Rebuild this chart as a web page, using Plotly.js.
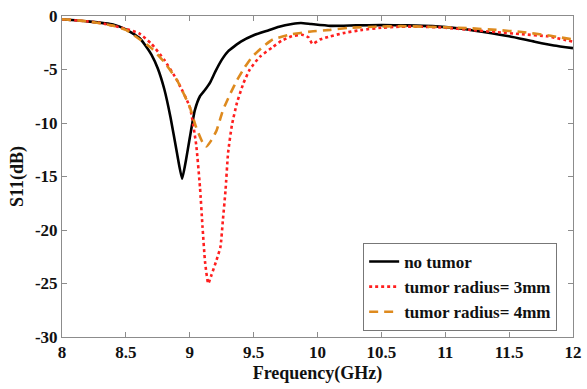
<!DOCTYPE html>
<html>
<head>
<meta charset="utf-8">
<script src="https://cdn.plot.ly/plotly-3.0.1.min.js"></script>
<style>
#chart svg text { font-family: "Liberation Serif", "Times New Roman", serif !important; font-weight: bold !important; }
</style>
</head>
<body style="margin:0">
<div id="chart" style="width:587px;height:389px"></div>
<script>
// Series names
const seriesNames = ["no tumor", "tumor radius= 3mm", "tumor radius= 4mm"];

// no tumor
const freqNoTumor = [8, 8.2, 8.4, 8.5, 8.55, 8.61, 8.65, 8.7, 8.75, 8.8, 8.85, 8.9, 8.94, 8.97, 9.0, 9.04, 9.08, 9.12, 9.16, 9.2, 9.25, 9.3, 9.4, 9.5, 9.6, 9.7, 9.8, 9.87, 9.95, 10.1, 10.3, 10.5, 10.7, 10.9, 11.1, 11.3, 11.5, 11.7, 11.85, 12];
const s11NoTumor  = [-0.3, -0.5, -0.8, -1.25, -1.6, -2.1, -2.7, -3.6, -4.9, -6.8, -9.5, -12.8, -15.2, -13.5, -11.4, -8.8, -7.5, -6.9, -6.2, -5.2, -4.1, -3.3, -2.4, -1.8, -1.4, -1.0, -0.75, -0.65, -0.75, -0.92, -0.88, -0.85, -0.88, -0.95, -1.15, -1.5, -1.9, -2.4, -2.75, -3.0];

// tumor radius 3mm
const freq3mm = [8, 8.2, 8.3, 8.5, 8.6, 8.7, 8.8, 8.9, 9.0, 9.05, 9.08, 9.1, 9.12, 9.145, 9.17, 9.21, 9.24, 9.26, 9.28, 9.3, 9.33, 9.37, 9.42, 9.47, 9.55, 9.65, 9.72, 9.8, 9.88, 9.93, 9.96, 10.02, 10.1, 10.2, 10.35, 10.5, 10.65, 10.8, 11.0, 11.2, 11.4, 11.6, 11.8, 12];
const s113mm  = [-0.3, -0.5, -0.65, -1.2, -1.6, -2.6, -4.1, -6.0, -8.5, -12, -16, -19.7, -23, -25, -24.2, -22.8, -21.6, -19, -16.3, -12.8, -10.2, -8.1, -6.3, -5.0, -3.8, -2.9, -2.3, -1.9, -1.75, -2.0, -2.6, -2.2, -1.9, -1.6, -1.3, -1.1, -1.0, -1.0, -1.1, -1.3, -1.5, -1.7, -1.9, -2.4];

// tumor radius 4mm
const freq4mm = [8, 8.2, 8.4, 8.5, 8.61, 8.7, 8.8, 8.9, 9.0, 9.05, 9.1, 9.13, 9.17, 9.21, 9.26, 9.32, 9.37, 9.43, 9.49, 9.57, 9.65, 9.8, 9.95, 10.1, 10.25, 10.45, 10.65, 10.85, 11.0, 11.2, 11.4, 11.6, 11.8, 12];
const s114mm  = [-0.3, -0.5, -0.9, -1.3, -2.2, -3.0, -4.3, -6.0, -8.5, -10.4, -11.8, -12.2, -11.6, -10.7, -8.8, -7.2, -6.0, -4.8, -3.8, -2.9, -2.2, -1.7, -1.45, -1.3, -1.1, -1.0, -0.95, -1.0, -1.05, -1.15, -1.3, -1.5, -1.8, -2.2];

// Axis ticks
const xTicks = [8, 8.5, 9, 9.5, 10, 10.5, 11, 11.5, 12];
const xTickLabels = ["8", "8.5", "9", "9.5", "10", "10.5", "11", "11.5", "12"];
const yTicks = [0, -5, -10, -15, -20, -25, -30];
const yTickLabels = ["0", "-5", "-10", "-15", "-20", "-25", "-30"];

const SERIF = "Liberation Serif";

Plotly.newPlot("chart", [
  {x: freqNoTumor, y: s11NoTumor, name: seriesNames[0], mode: "lines",
   line: {color: "#000000", width: 2.6, shape: "spline", smoothing: 0.5}},
  {x: freq3mm, y: s113mm, name: seriesNames[1], mode: "lines",
   line: {color: "#FF1F1F", width: 2.6, dash: "dot", shape: "spline", smoothing: 0.5}},
  {x: freq4mm, y: s114mm, name: seriesNames[2], mode: "lines",
   line: {color: "#DE8A1E", width: 2.6, dash: "9px,6px", shape: "spline", smoothing: 0.5}}
], {
  width: 587, height: 389,
  margin: {l: 62, r: 14, t: 16, b: 52},
  font: {family: SERIF, color: "#111111", weight: "bold"},
  showlegend: true,
  legend: {
    x: 0.969, y: 0.293, xanchor: "right", yanchor: "top",
    bgcolor: "#ffffff", bordercolor: "#777777", borderwidth: 1,
    font: {family: SERIF, size: 17, color: "#111111", weight: "bold"},
    tracegroupgap: 0, itemwidth: 30
  },
  xaxis: {
    range: [8, 12], tickvals: xTicks, ticktext: xTickLabels,
    showgrid: false, zeroline: false, showline: true, linecolor: "#8c8c8c", linewidth: 1,
    mirror: "ticks", ticks: "inside", ticklen: 5, tickcolor: "#8c8c8c",
    tickfont: {family: SERIF, size: 17, color: "#111111", weight: "bold"},
    title: {text: "Frequency(GHz)", standoff: 4, font: {family: SERIF, size: 18, color: "#111111", weight: "bold"}}
  },
  yaxis: {
    range: [-30, 0], tickvals: yTicks, ticktext: yTickLabels,
    showgrid: false, zeroline: false, showline: true, linecolor: "#8c8c8c", linewidth: 1,
    mirror: "ticks", ticks: "inside", ticklen: 5, tickcolor: "#8c8c8c",
    tickfont: {family: SERIF, size: 17, color: "#111111", weight: "bold"},
    title: {text: "S11(dB)", standoff: 6, font: {family: SERIF, size: 18, color: "#111111", weight: "bold"}}
  }
}, {staticPlot: true});
</script>
</body>
</html>
